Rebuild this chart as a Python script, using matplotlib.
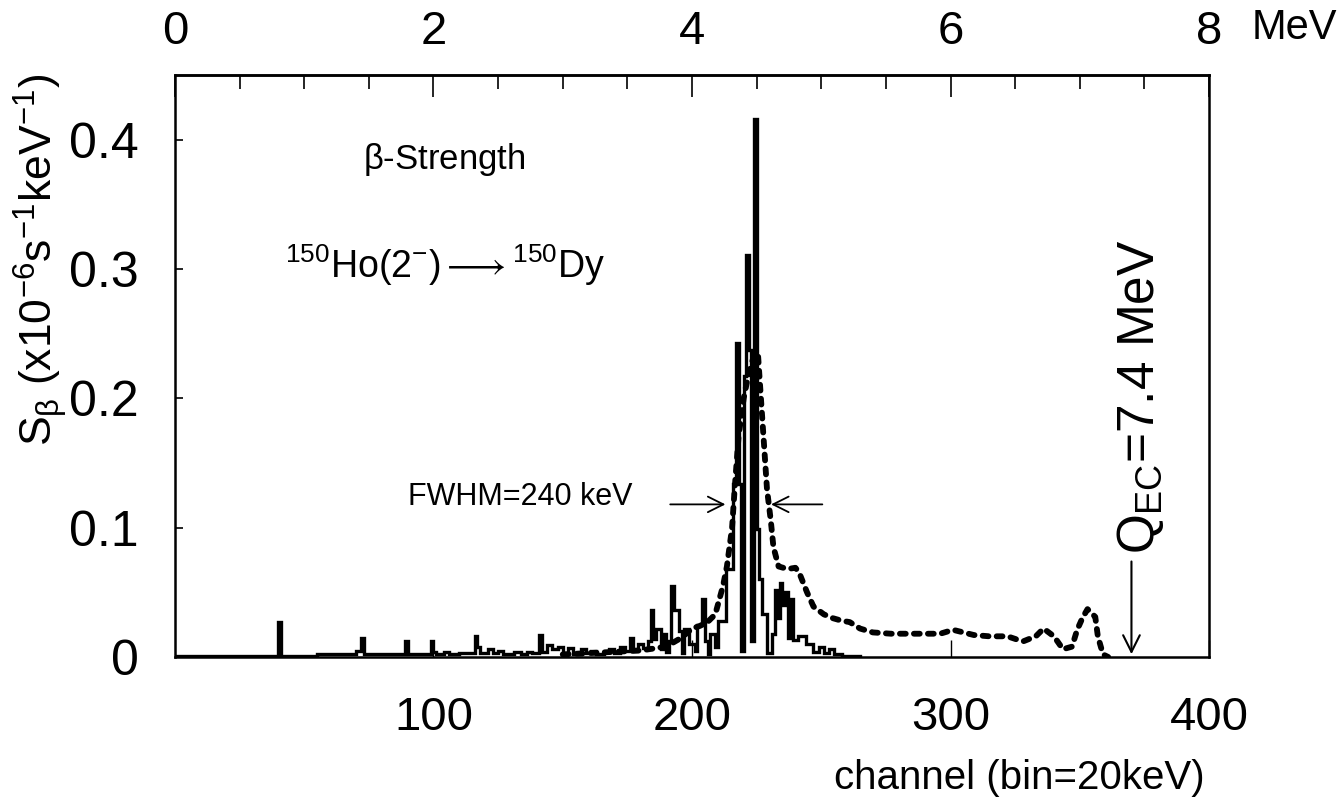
import matplotlib
matplotlib.use("Agg")
import matplotlib.pyplot as plt
from matplotlib.ticker import MultipleLocator

plt.rcParams["font.family"] = ["Liberation Sans", "DejaVu Sans"]
plt.rcParams["mathtext.fontset"] = "custom"
plt.rcParams["mathtext.rm"] = "Liberation Sans"
plt.rcParams["mathtext.it"] = "Liberation Sans"
plt.rcParams["mathtext.bf"] = "Liberation Sans"

# solid histogram: bin edges (channels) and beta strength per bin
solid_edges = [0, 40, 41, 55, 70, 72, 73, 89, 90, 99, 100, 101, 104, 106, 110,
               116, 117, 118, 121, 123, 125, 127, 131, 134, 136, 138, 141, 142,
               144, 146, 148, 150, 152, 154, 157, 159, 161, 163, 166, 168, 170,
               172, 174, 176, 177, 179, 181, 183, 184, 185, 186, 188, 189, 190,
               191, 192, 193, 195, 196, 197, 199, 201, 202, 204, 205, 206, 207,
               209, 210, 213, 216, 217, 218, 219, 220, 221, 222, 223, 224, 225,
               226, 227, 229, 231, 232, 233, 234, 235, 236, 237, 238, 239, 241,
               244, 247, 249, 251, 253, 255, 258, 265]
solid_vals = [0.001, 0.027, 0.001, 0.002, 0.005, 0.015, 0.002, 0.012, 0.002,
              0.012, 0.004, 0.002, 0.004, 0.002, 0.003, 0.016, 0.008, 0.003,
              0.006, 0.003, 0.005, 0.002, 0.004, 0.002, 0.004, 0.003, 0.017,
              0.004, 0.009, 0.006, 0.008, 0.003, 0.007, 0.002, 0.006, 0.003,
              0.005, 0.002, 0.004, 0.006, 0.003, 0.008, 0.005, 0.015, 0.006,
              0.010, 0.007, 0.012, 0.036, 0.014, 0.022, 0.006, 0.018, 0.004,
              0.012, 0.055, 0.036, 0.020, 0.003, 0.022, 0.010, 0.005, 0.025,
              0.045, 0.012, 0.002, 0.018, 0.008, 0.028, 0.068, 0.134, 0.243,
              0.134, 0.005, 0.217, 0.311, 0.237, 0.012, 0.416, 0.099, 0.060,
              0.033, 0.003, 0.018, 0.052, 0.030, 0.057, 0.040, 0.050, 0.015,
              0.045, 0.013, 0.016, 0.010, 0.004, 0.008, 0.003, 0.006, 0.002,
              0.001]

# folded (dashed) curve
dash_ch = [150, 160, 170, 180, 190, 196, 200, 203, 206, 209, 212, 213.5, 215.5,
           216.5, 218, 220, 222, 224, 225.5, 227, 228, 229, 230.5, 231.5, 233.5,
           237, 240, 241.5, 244.5, 247, 251, 254.5, 258, 261, 265, 270, 277, 285,
           296, 301, 305, 309, 315, 322, 328, 333, 336, 340, 343.5, 347, 349, 351,
           353, 356, 357, 359, 361]
dash_vals = [0.002, 0.003, 0.004, 0.005, 0.008, 0.015, 0.022, 0.024, 0.027,
             0.033, 0.055, 0.070, 0.100, 0.130, 0.170, 0.200, 0.220, 0.233,
             0.235, 0.190, 0.160, 0.130, 0.105, 0.085, 0.070, 0.068, 0.069,
             0.065, 0.050, 0.039, 0.033, 0.030, 0.028, 0.027, 0.022, 0.019,
             0.018, 0.018, 0.018, 0.021, 0.019, 0.017, 0.016, 0.016, 0.012,
             0.016, 0.022, 0.016, 0.006, 0.008, 0.021, 0.030, 0.037, 0.031,
             0.016, 0.002, 0.0]

bottom_ticks = [100, 200, 300, 400]
top_ticks = [0, 2, 4, 6, 8]
y_ticks = [0, 0.1, 0.2, 0.3, 0.4]
q_ec_channel = 370

fig = plt.figure(figsize=(13.42, 8), dpi=100)
ax = fig.add_axes([0.1304, 0.17875, 0.7705, 0.7275])

ax.stairs(solid_vals, solid_edges, color="black", lw=2.4)
ax.plot(dash_ch, dash_vals, color="black", lw=4.2,
        linestyle=(0, (1.0, 1.4)), dash_capstyle="round")

ax.set_xlim(0, 400)
ax.set_ylim(0, 0.450)
for s in ax.spines.values():
    s.set_linewidth(1.8)

ax.set_xticks(bottom_ticks)
ax.set_xticklabels([str(t) for t in bottom_ticks])
ax.set_yticks(y_ticks)
ax.set_yticklabels(["0", "0.1", "0.2", "0.3", "0.4"])
ax.tick_params(axis="x", direction="in", length=12, width=1, pad=28, labelsize=34)
ax.tick_params(axis="y", direction="in", length=6, width=1.2, pad=26, labelsize=36)

# energy scale on top
top = ax.secondary_xaxis("top", functions=(lambda c: c * 0.02, lambda e: e / 0.02))
top.set_xticks(top_ticks)
top.set_xticklabels([str(t) for t in top_ticks])
top.xaxis.set_minor_locator(MultipleLocator(0.5))
top.tick_params(which="major", direction="in", length=16, width=1.2, pad=15, labelsize=34)
top.tick_params(which="minor", direction="in", length=10, width=1.2)
top.spines["top"].set_linewidth(1.8)
fig.text(1252 / 1342, 1 - 28 / 800, "MeV", ha="left", va="center", fontsize=30)

fig.text(40 / 1342, 1 - 260 / 800,
         r"$S_{\beta}\ (\mathrm{x10^{-6}s^{-1}keV^{-1}})$",
         rotation=90, ha="center", va="center", fontsize=32)
fig.text(1205 / 1342, 1 - 778 / 800, "channel (bin=20keV)",
         ha="right", va="center", fontsize=29)

ax.text(104, 0.385, r"$\mathrm{\beta}$-Strength", ha="center", va="center", fontsize=25)
ax.text(104.5, 0.303, r"$^{150}$Ho(2$^{-}$)$\longrightarrow$$^{150}$Dy",
        ha="center", va="center", fontsize=27)

ax.text(177, 0.124, "FWHM=240 keV", ha="right", va="center", fontsize=22)
ax.annotate("", xy=(214, 0.118), xytext=(190.5, 0.118),
            arrowprops=dict(arrowstyle="->", lw=1.3, mutation_scale=28))
ax.annotate("", xy=(229.5, 0.118), xytext=(251.5, 0.118),
            arrowprops=dict(arrowstyle="->", lw=1.3, mutation_scale=28))

ax.annotate("", xy=(q_ec_channel, 0), xytext=(q_ec_channel, 0.076),
            arrowprops=dict(arrowstyle="->", lw=1.5, mutation_scale=30))
ax.text(373.5, 0.080, r"$Q_{EC}$=7.4 MeV", rotation=90,
        ha="center", va="bottom", fontsize=37)

fig.savefig("out.png", dpi=100)
